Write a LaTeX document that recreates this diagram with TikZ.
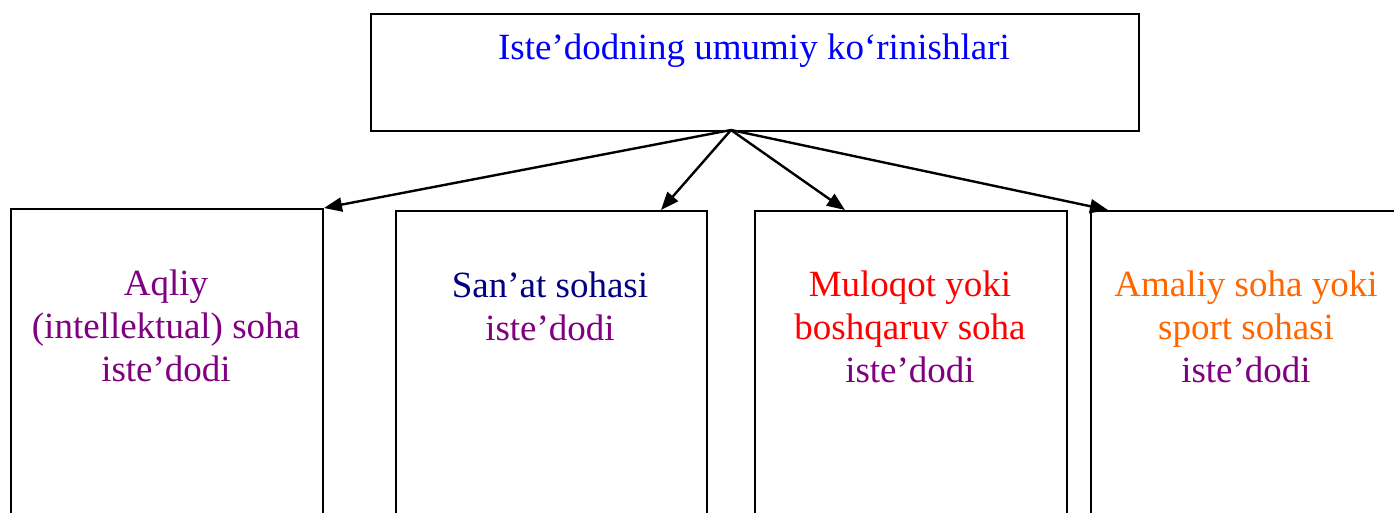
\documentclass[tikz,border=0pt]{standalone}
\usepackage{fontspec}
\setmainfont{Liberation Serif}
\usetikzlibrary{arrows.meta}
\definecolor{tblue}{RGB}{0,0,255}
\definecolor{tpurple}{RGB}{128,0,128}
\definecolor{tnavy}{RGB}{0,0,128}
\definecolor{tred}{RGB}{255,0,0}
\definecolor{torange}{RGB}{255,102,0}
\begin{document}
\begin{tikzpicture}[x=1pt,y=-1pt,
  box/.style={draw=black, line width=2pt, inner sep=0pt, anchor=north west},
  lbl/.style={font=\fontsize{37}{43}\selectfont, align=center, anchor=base, inner sep=0pt},
  arr/.style={-{Triangle[length=18pt,width=14pt]}, line width=2.4pt}]
\useasboundingbox (0,0) rectangle (1394,512);
\clip (0,0) rectangle (1394,512);
\node[box, minimum width=768pt, minimum height=117pt] (top) at (370,13) {};
\node[box, minimum width=312pt, minimum height=400pt] (b1) at (10,208) {};
\node[box, minimum width=311pt, minimum height=400pt] (b2) at (395,210) {};
\node[box, minimum width=312pt, minimum height=400pt] (b3) at (754,210) {};
\node[box, minimum width=312pt, minimum height=400pt] (b4) at (1090,210) {};
\node[lbl, text=tblue] (ttl) at (754,59) {Iste’dodning umumiy ko‘rinishlari};
\node[lbl] (t1) at (166,381) {{\color{tpurple}Aqliy}\\{\color{tpurple}(intellektual) soha}\\{\color{tpurple}iste’dodi}};
\node[lbl] (t2) at (550,340) {{\color{tnavy}San’at sohasi}\\{\color{tpurple}iste’dodi}};
\node[lbl] (t3) at (910,382) {{\color{tred}Muloqot yoki}\\{\color{tred}boshqaruv soha}\\{\color{tpurple}iste’dodi}};
\node[lbl] (t4) at (1246,382) {{\color{torange}Amaliy soha yoki}\\{\color{torange}sport sohasi}\\{\color{tpurple}iste’dodi}};
\coordinate (src) at (731,130);
\coordinate (e2) at (661,210);
\coordinate (e3) at (845,210);
\coordinate (e4) at (1108,210);
\draw[arr] (src) -- (b1.north east);
\draw[arr] (src) -- (e2);
\draw[arr] (src) -- (e3);
\draw[arr] (src) -- (e4);
\end{tikzpicture}
\end{document}
